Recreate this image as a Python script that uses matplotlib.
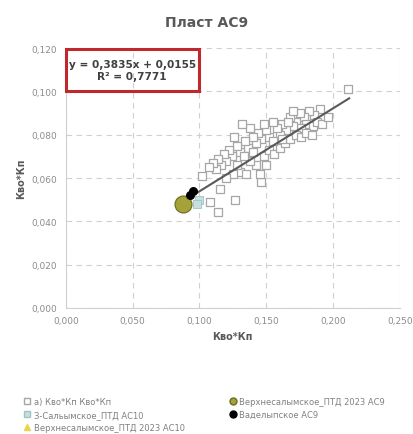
import matplotlib.pyplot as plt
from matplotlib.patches import Rectangle
from matplotlib.lines import Line2D
from matplotlib.ticker import FuncFormatter

# Kvo*Kp core data, hollow squares
core_x = [0.211, 0.190, 0.186, 0.182, 0.178, 0.175, 0.172, 0.180, 0.185, 0.188,
          0.176, 0.170, 0.168, 0.165, 0.162, 0.160, 0.158, 0.155, 0.152, 0.150,
          0.148, 0.146, 0.144, 0.142, 0.140, 0.138, 0.136, 0.134, 0.132, 0.130,
          0.128, 0.126, 0.124, 0.122, 0.120, 0.118, 0.116, 0.114, 0.112, 0.110,
          0.107, 0.102, 0.1155, 0.108, 0.114, 0.1265, 0.146, 0.130, 0.142, 0.135,
          0.138, 0.148, 0.152, 0.156, 0.160, 0.164, 0.168, 0.172, 0.176, 0.180,
          0.184, 0.150, 0.145, 0.125, 0.120, 0.133, 0.128, 0.155, 0.162, 0.140,
          0.192, 0.196, 0.170, 0.166]
core_y = [0.101, 0.092, 0.089, 0.091, 0.088, 0.090, 0.086, 0.085, 0.084, 0.086,
          0.083, 0.084, 0.088, 0.082, 0.085, 0.080, 0.083, 0.086, 0.079, 0.082,
          0.085, 0.078, 0.081, 0.076, 0.079, 0.083, 0.074, 0.077, 0.085, 0.072,
          0.075, 0.079, 0.070, 0.073, 0.068, 0.071, 0.066, 0.069, 0.064, 0.067,
          0.065, 0.061, 0.055, 0.049, 0.0445, 0.050, 0.058, 0.063, 0.066, 0.062,
          0.068, 0.070, 0.073, 0.071, 0.074, 0.076, 0.078, 0.080, 0.079, 0.081,
          0.080, 0.066, 0.062, 0.062, 0.060, 0.070, 0.066, 0.077, 0.078, 0.072,
          0.085, 0.088, 0.091, 0.086]

zs_x = [0.100, 0.098]
zs_y = [0.050, 0.048]

vs10_x = [0.089]
vs10_y = [0.049]

vs9_x = [0.0876]
vs9_y = [0.048]

vad_x = [0.093, 0.095]
vad_y = [0.052, 0.054]

slope, intercept, r2 = 0.3835, 0.0155, 0.7771
trend_x = [0.095, 0.212]

fig = plt.figure(figsize=(4.14, 4.35), dpi=100)
ax = fig.add_axes([0.159, 0.290, 0.807, 0.597])

ax.scatter(core_x, core_y, marker='s', s=34, facecolors='white',
           edgecolors='#a6a6a6', linewidths=0.9, zorder=3)
ax.plot(trend_x, [slope * x + intercept for x in trend_x],
        color='#595959', lw=1.5, zorder=4)
ax.scatter(zs_x, zs_y, marker='s', s=30, color='#c9dede', edgecolors='#9fc4c4',
           linewidths=0.6, zorder=4)
ax.scatter(vs10_x, vs10_y, marker='^', s=40, color='#e8d44d', zorder=4)
ax.scatter(vs9_x, vs9_y, marker='o', s=150, color='#a6a23a',
           edgecolors='#6b6a20', linewidths=0.8, zorder=5)
ax.scatter(vad_x, vad_y, marker='o', s=30, color='black', zorder=6)

ax.set_xlim(0, 0.25)
ax.set_ylim(0, 0.12)
ax.set_xticks([0, 0.05, 0.10, 0.15, 0.20, 0.25])
ax.set_yticks([0, 0.02, 0.04, 0.06, 0.08, 0.10, 0.12])
fmt = FuncFormatter(lambda v, p: f"{v:.3f}".replace('.', ','))
ax.xaxis.set_major_formatter(fmt)
ax.yaxis.set_major_formatter(fmt)
ax.tick_params(labelsize=6.5, colors='#8c8c8c', length=0, pad=6)
ax.grid(True, ls=(0, (5, 4)), color='#d0d0d0', lw=0.8)
for side in ['top', 'right']:
    ax.spines[side].set_visible(False)
for side in ['left', 'bottom']:
    ax.spines[side].set_color('#d0d0d0')

ax.set_xlabel('Кво*Кп', fontsize=7, fontweight='bold', color='#595959', labelpad=4)
ax.set_ylabel('Кво*Кп', fontsize=7, fontweight='bold', color='#595959', labelpad=4)
fig.text(0.5, 0.948, 'Пласт АС9', ha='center', va='center',
         fontsize=10, fontweight='bold', color='#595959')

# equation box
ax.add_patch(Rectangle((0.0, 0.1), 0.0995, 0.0195, transform=ax.transData,
                       fill=False, edgecolor='#c0282d', lw=2.2, zorder=7,
                       clip_on=False))
ax.text(0.0497, 0.1098,
        f"y = {slope:.4f}x + {intercept:.4f}\nR² = {r2:.4f}".replace('.', ','),
        ha='center', va='center', fontsize=7.6, fontweight='bold',
        color='#404040', linespacing=1.3, zorder=8)

# column-wise legend order
handles = [
    Line2D([], [], ls='none', marker='s', ms=5, mfc='white', mec='#a6a6a6'),
    Line2D([], [], ls='none', marker='s', ms=5, mfc='#c9dede', mec='#9fc4c4'),
    Line2D([], [], ls='none', marker='^', ms=5, mfc='#e8d44d', mec='#e8d44d'),
    Line2D([], [], ls='none', marker='o', ms=5, mfc='#a6a23a', mec='#6b6a20'),
    Line2D([], [], ls='none', marker='o', ms=5, mfc='black', mec='black'),
]
labels = ['а) Кво*Кп Кво*Кп', 'З-Сальымское_ПТД АС10',
          'Верхнесалымское_ПТД 2023 АС10', 'Верхнесалымское_ПТД 2023 АС9',
          'Ваделыпское АС9']
fig.legend(handles, labels, ncol=2, loc='lower left',
           bbox_to_anchor=(0.04, -0.012), frameon=False, fontsize=6,
           labelcolor='#808080', handlelength=0.8, handletextpad=0.4,
           columnspacing=5.3, labelspacing=0.45)

fig.savefig('out.png', dpi=100)
